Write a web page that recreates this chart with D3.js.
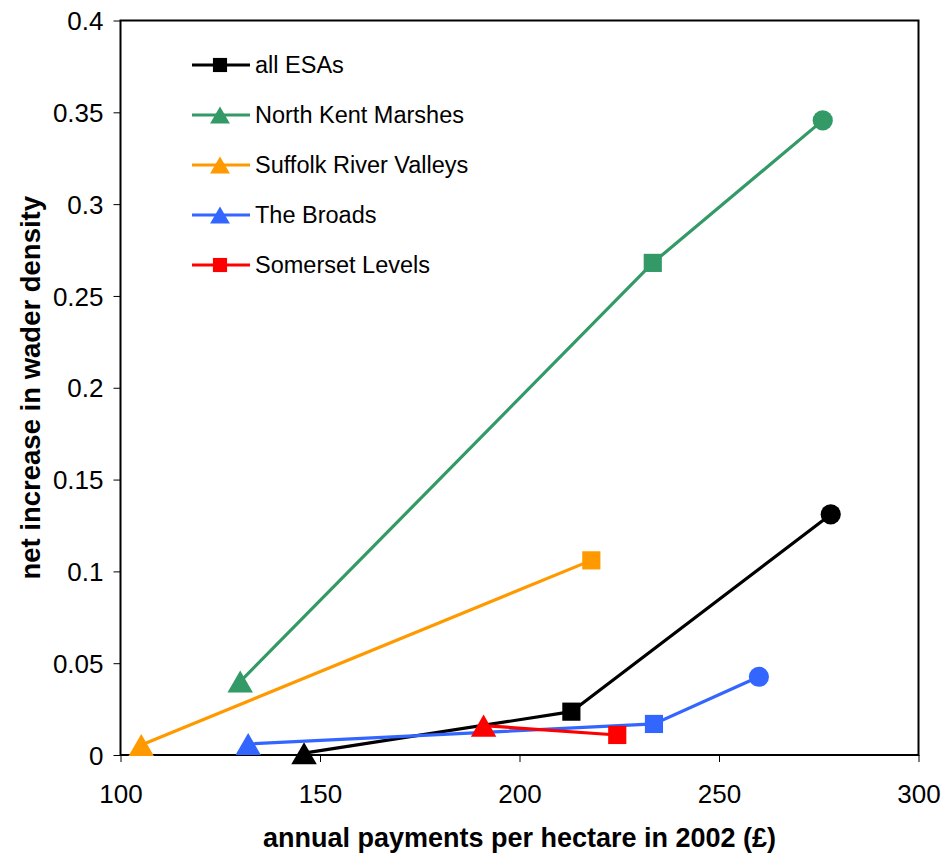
<!DOCTYPE html>
<html>
<head>
<meta charset="utf-8">
<script src="https://cdn.jsdelivr.net/npm/d3@7"></script>
<style>
body{margin:0;background:#fff;}
text{font-family:"Liberation Sans",Arial,sans-serif;}
</style>
</head>
<body>
<div id="chart"></div>
<script>
var width=945, height=862;

// series data
var seriesNames=["all ESAs","North Kent Marshes","Suffolk River Valleys","The Broads","Somerset Levels"];
var seriesColors=["#000000","#339966","#FF9900","#3366FF","#FF0000"];
var legendShapes=["square","triangle","triangle","triangle","square"];
var allEsasX=[146,213,278],        allEsasY=[0.001,0.0236,0.131];
var kentX=[130,233.4,276],         kentY=[0.040,0.268,0.3456];
var suffolkX=[105.2,218],          suffolkY=[0.0054,0.106];
var broadsX=[132,233.7,260],       broadsY=[0.006,0.0169,0.0426];
var somersetX=[191,224.5],         somersetY=[0.016,0.0109];
var pointShapes=["triangle","square","circle"];
var xTicks=[100,150,200,250,300];
var yTicks=[0,0.05,0.1,0.15,0.2,0.25,0.3,0.35,0.4];

var seriesX=[allEsasX,kentX,suffolkX,broadsX,somersetX];
var seriesY=[allEsasY,kentY,suffolkY,broadsY,somersetY];

var plotL=120.5, plotR=918.5, plotT=20.5, plotB=755;

var x=d3.scaleLinear().domain([100,300]).range([plotL,plotR]);
var y=d3.scaleLinear().domain([0,0.4]).range([plotB,plotT]);

var svg=d3.select("#chart").append("svg")
	.attr("width",width)
	.attr("height",height);

// plot box
svg.append("rect")
	.attr("x",plotL).attr("y",plotT)
	.attr("width",plotR-plotL).attr("height",plotB-plotT)
	.attr("fill","none").attr("stroke","#000").attr("stroke-width",2);

var xAxis=svg.append("g")
	.attr("transform","translate(0,"+plotB+")")
	.call(d3.axisBottom(x).tickValues(xTicks).tickSize(7).tickFormat(d3.format("d")));
var yAxis=svg.append("g")
	.attr("transform","translate("+plotL+",0)")
	.call(d3.axisLeft(y).tickValues(yTicks).tickSize(7).tickFormat(function(d){return d===0?"0":String(+d.toFixed(2));}));

[xAxis,yAxis].forEach(function(a){
	a.select(".domain").remove();
	a.selectAll(".tick line").attr("stroke","#000").attr("stroke-width",1);
	a.selectAll(".tick text")
		.attr("font-size","26px")
		.attr("font-family","'Liberation Sans',Arial,sans-serif")
		.attr("fill","#000");
});
xAxis.selectAll(".tick text").attr("dy",0).attr("y",48);
yAxis.selectAll(".tick text").attr("x",-17).attr("dy","0.35em");

// axis titles
svg.append("text")
	.attr("x",(plotL+plotR)/2).attr("y",847)
	.attr("text-anchor","middle")
	.attr("font-size","27px").attr("font-weight","bold")
	.text("annual payments per hectare in 2002 (£)");
svg.append("text")
	.attr("transform","translate(40,"+((plotT+plotB)/2)+") rotate(-90)")
	.attr("text-anchor","middle")
	.attr("font-size","27.5px").attr("font-weight","bold")
	.text("net increase in wader density");

function shapePath(shape,size){
	var t=shape==="square"?d3.symbolSquare:shape==="triangle"?d3.symbolTriangle:d3.symbolCircle;
	return d3.symbol().type(t).size(size)();
}
// triangle centroid -> bbox centre offset
function triShift(size){
	var side=Math.sqrt(4*size/Math.sqrt(3));
	return side*Math.sqrt(3)/2/6;
}
var shapeSize={square:330,triangle:280,circle:320};

var line=d3.line().x(function(d){return x(d[0]);}).y(function(d){return y(d[1]);});

var plot=svg.append("g");
seriesNames.forEach(function(name,i){
	var pts=seriesX[i].map(function(v,j){return [v,seriesY[i][j]];});
	plot.append("path")
		.attr("d",line(pts))
		.attr("fill","none")
		.attr("stroke",seriesColors[i])
		.attr("stroke-width",3.2);
	plot.selectAll(".m"+i).data(pts).enter().append("path")
		.attr("class","m"+i)
		.attr("d",function(d,j){return shapePath(pointShapes[j],shapeSize[pointShapes[j]]);})
		.attr("transform",function(d,j){
			var dy=pointShapes[j]==="triangle"?triShift(shapeSize.triangle):0;
			return "translate("+x(d[0])+","+(y(d[1])+dy)+")";})
		.attr("fill",seriesColors[i]);
});

// legend
var legend=svg.append("g");
seriesNames.forEach(function(name,i){
	var ly=65+i*50;
	var s=legendShapes[i]==="square"?200:170;
	legend.append("line")
		.attr("x1",192).attr("x2",250).attr("y1",ly).attr("y2",ly)
		.attr("stroke",seriesColors[i]).attr("stroke-width",3.2);
	legend.append("path")
		.attr("d",shapePath(legendShapes[i],s))
		.attr("transform","translate(220,"+(ly+(legendShapes[i]==="triangle"?triShift(s):0))+")")
		.attr("fill",seriesColors[i]);
	legend.append("text")
		.attr("x",255).attr("y",ly)
		.attr("dy","0.35em")
		.attr("font-size","23.5px")
		.text(name);
});
</script>
</body>
</html>
